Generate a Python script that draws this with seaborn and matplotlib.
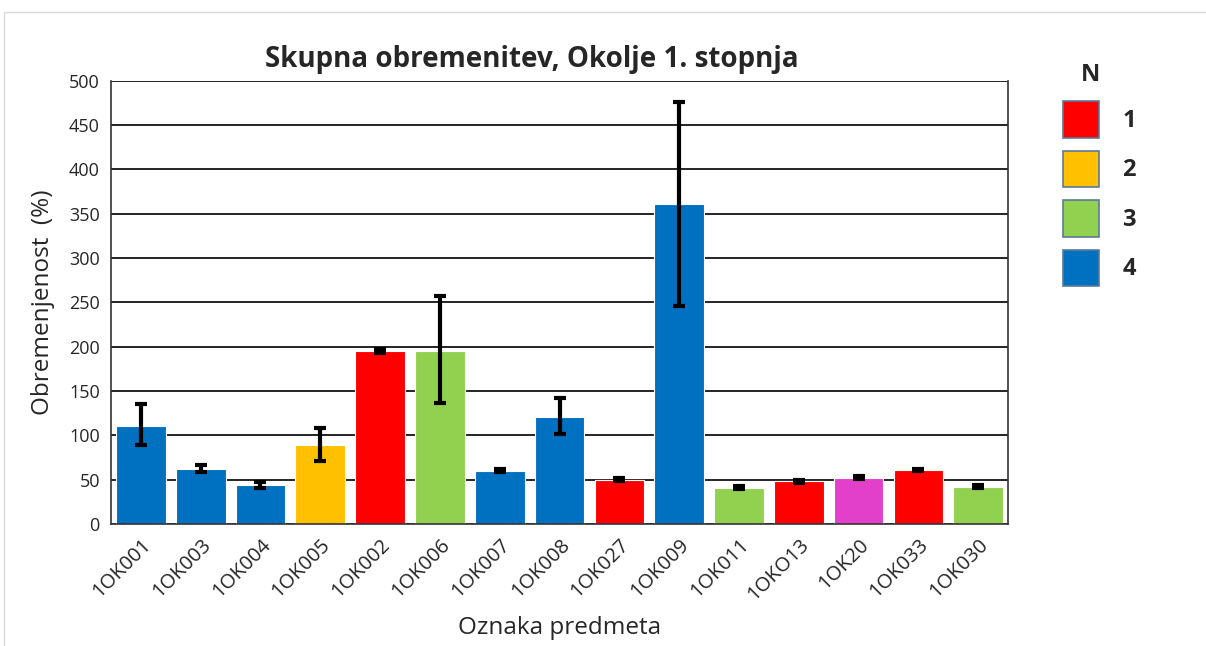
import matplotlib
matplotlib.use("Agg")
import matplotlib.pyplot as plt
from matplotlib.patches import Patch
from matplotlib.lines import Line2D
import numpy as np
import pandas as pd
import seaborn as sns

labels = ["1OK001", "1OK003", "1OK004", "1OK005", "1OK002", "1OK006", "1OK007", "1OK008",
          "1OK027", "1OK009", "1OK011", "1OKO13", "1OK20", "1OK033", "1OK030"]
values = [110, 62, 44, 89, 195, 195, 60, 121, 50, 361, 41, 48, 52, 61, 42]
err_low = [89, 58, 41, 71, 193, 136, 58, 102, 48.5, 246, 39.5, 46.5, 50.5, 59.5, 40.5]
err_high = [135, 66, 47, 108, 197, 257, 62, 142, 51.5, 476, 42.5, 49.5, 53.5, 62.5, 43.5]
groups = ["4", "4", "4", "2", "1", "3", "4", "4", "1", "4", "3", "1", "5", "1", "3"]

group_colors = {"1": "#FF0000", "2": "#FFC000", "3": "#92D050", "4": "#0070C0", "5": "#E23FCB"}
legend_groups = ["1", "2", "3", "4"]

df = pd.DataFrame({"oznaka": labels, "vrednost": values, "skupina": groups})

sns.set_style("white")
plt.rcParams["font.family"] = ["Open Sans", "DejaVu Sans"]

fig = plt.figure(figsize=(12.06, 6.46), dpi=100)
ax = fig.add_axes([0.092, 0.189, 0.744, 0.686])

sns.barplot(data=df, x="oznaka", y="vrednost", hue="oznaka",
            palette=[group_colors[g] for g in groups], legend=False, saturation=1,
            width=0.83, edgecolor="white", linewidth=0.8, ax=ax, zorder=2)

x = np.arange(len(labels))
vals = np.array(values)
yerr = [vals - np.array(err_low), np.array(err_high) - vals]
ax.errorbar(x, vals, yerr=yerr, fmt="none", ecolor="black", elinewidth=3,
            capsize=4, capthick=3, zorder=3)

ax.set_ylim(0, 500)
ax.set_xlim(-0.5, len(labels) - 0.5)
ax.set_yticks(range(0, 501, 50))
ax.yaxis.grid(True, color="black", linewidth=1.2, zorder=0)
ax.set_axisbelow(True)

ax.set_xticks(x)
ax.set_xticklabels(labels, rotation=45, ha="right", rotation_mode="anchor", fontsize=14.5)
ax.tick_params(axis="x", which="major", length=0, pad=8)
ax.set_xticks(np.arange(-0.5, len(labels), 1), minor=True)
ax.tick_params(axis="x", which="minor", length=7, width=1, color="black", direction="out")
ax.tick_params(axis="y", labelsize=13, length=0, pad=8)

for side in ["left", "bottom", "right"]:
    ax.spines[side].set_color("#333333")
    ax.spines[side].set_linewidth(1.2)
ax.spines["top"].set_visible(False)

ax.set_title("Skupna obremenitev, Okolje 1. stopnja", fontsize=20, fontweight="bold",
             pad=10, x=0.469)
ax.set_ylabel("Obremenjenost  (%)", fontsize=17.5, labelpad=10)
ax.set_xlabel("Oznaka predmeta", fontsize=17.5, labelpad=8)

handles = [Patch(facecolor=group_colors[g], edgecolor="#5B7A9A", linewidth=1.2) for g in legend_groups]
leg = fig.legend(handles, legend_groups, loc="upper left", bbox_to_anchor=(0.864, 0.935),
                 frameon=False, title="N", handlelength=1.5, handleheight=2.0,
                 labelspacing=0.55, handletextpad=1.0, prop={"size": 17, "weight": "bold"},
                 title_fontproperties={"size": 17, "weight": "bold"})
leg._legend_box.align = "left"
leg._legend_box.sep = 10
leg.get_title().set_position((18, 0))

fig.add_artist(Line2D([0.003, 1.0], [0.981, 0.981], color="#D9D9D9", linewidth=1))
fig.add_artist(Line2D([0.003, 0.003], [0.0, 0.981], color="#D9D9D9", linewidth=1))

fig.savefig("out.png", dpi=100)
